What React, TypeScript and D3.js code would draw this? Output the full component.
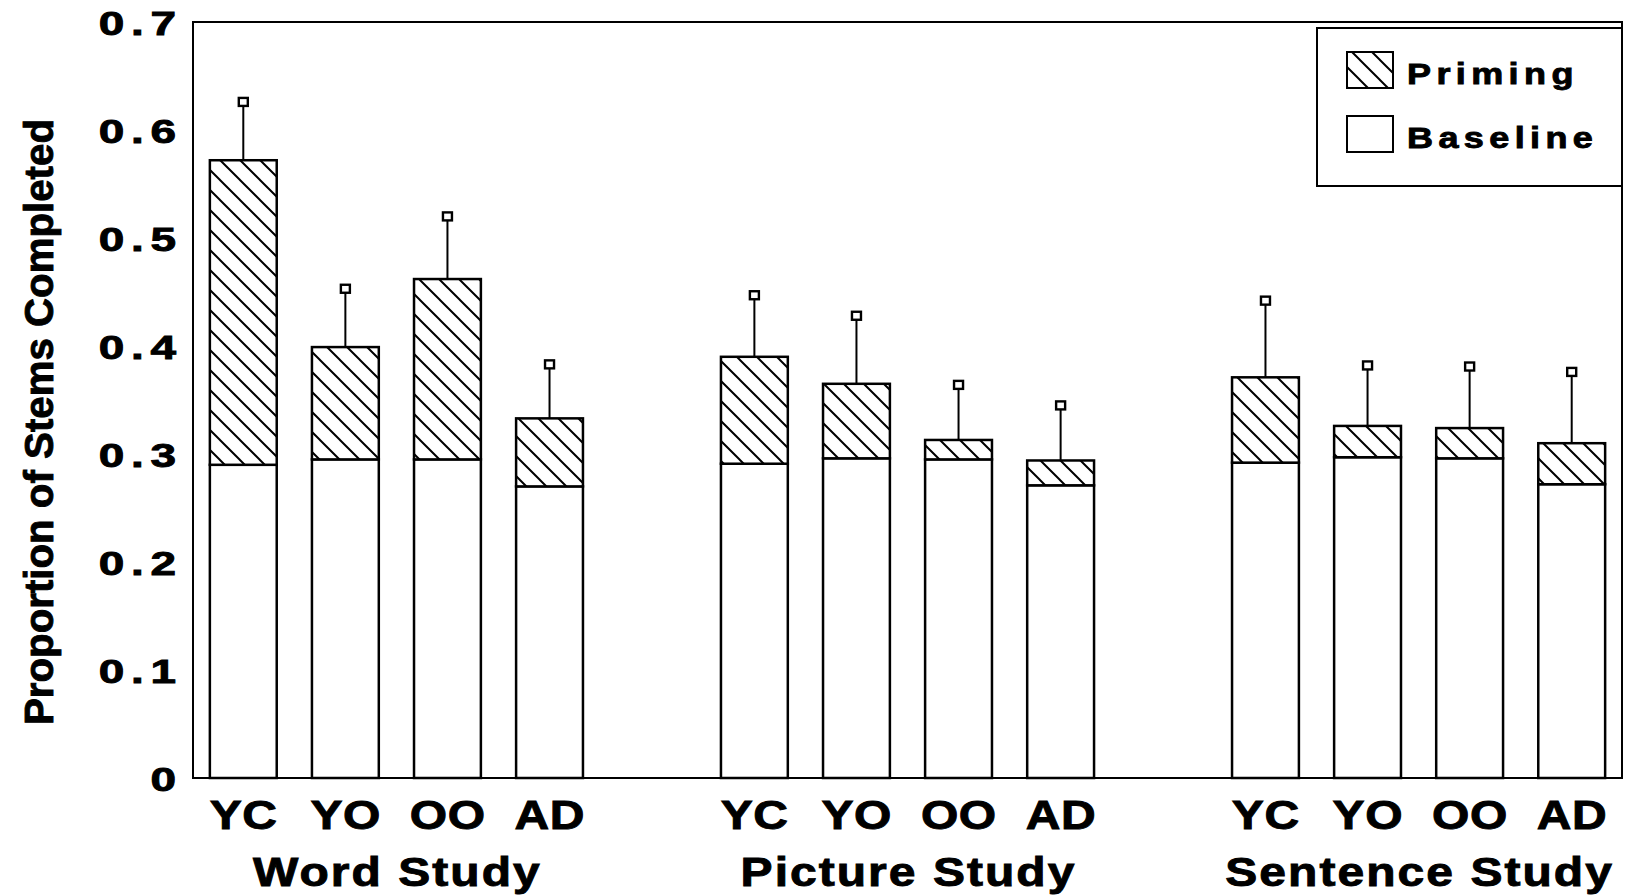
import React from 'react';
import * as d3 from 'd3';

// study conditions and subject groups
const studies = ['Word Study', 'Picture Study', 'Sentence Study'];
const subjects = ['YC', 'YO', 'OO', 'AD'];

// baseline completion rate, one row per study (YC, YO, OO, AD)
const baseline = [
  [0.290, 0.295, 0.295, 0.270],
  [0.291, 0.296, 0.295, 0.271],
  [0.292, 0.297, 0.296, 0.272],
];
// priming effect stacked on top of baseline
const priming = [
  [0.282, 0.104, 0.167, 0.063],
  [0.099, 0.069, 0.018, 0.023],
  [0.079, 0.029, 0.028, 0.038],
];
// error bar (upper) length
const errors = [
  [0.054, 0.054, 0.058, 0.050],
  [0.057, 0.063, 0.051, 0.051],
  [0.071, 0.056, 0.057, 0.066],
];

const yTicks = [0, 0.1, 0.2, 0.3, 0.4, 0.5, 0.6, 0.7];
const yTickLabels = ['0', '0.1', '0.2', '0.3', '0.4', '0.5', '0.6', '0.7'];

const W = 1625;
const H = 895;
const left = 193;
const right = 1622;
const top = 22;
const bottom = 778;

const font = "'Liberation Sans', Arial, Helvetica, sans-serif";

// wide, heavy bold text like the original typesetting
const WideText = ({ x, y, text, size, sx = 1.2, ls = 2, anchor = 'middle' }: any) => {
  const shift = anchor === 'middle' ? ls / 2 : anchor === 'end' ? ls : 0;
  return (
    <text
      transform={`translate(${x + shift * sx},${y}) scale(${sx},1)`}
      textAnchor={anchor}
      fontFamily={font}
      fontWeight="bold"
      fontSize={size}
      letterSpacing={ls}
      fill="#000"
      stroke="#000"
      strokeWidth={0.9}
    >
      {text}
    </text>
  );
};

export default function App() {
  const x0 = d3.scaleBand<string>().domain(studies).range([left, right]).paddingInner(0.27).paddingOuter(0.033);
  const x1 = d3.scaleBand<string>().domain(subjects).range([0, x0.bandwidth()]).paddingInner(0.345);
  const y = d3.scaleLinear().domain([0, 0.7]).range([bottom, top]);

  const bars = studies.flatMap((s, gi) => {
    const rows = subjects.map((sub, i) => ({ subject: sub, baseline: baseline[gi][i], priming: priming[gi][i] }));
    const stacked = d3.stack<any>().keys(['baseline', 'priming'])(rows);
    return subjects.map((sub, i) => ({
      study: s,
      subject: sub,
      base: stacked[0][i],
      prime: stacked[1][i],
      err: errors[gi][i],
    }));
  });

  const bw = x1.bandwidth();

  return (
    <svg width={W} height={H} style={{ position: 'absolute', left: 0, top: 0, background: '#fff' }}>
      <defs>
        <pattern id="hatch" patternUnits="userSpaceOnUse" width={20} height={20}>
          <rect width={20} height={20} fill="#fff" />
          <path d="M0,0L20,20M-5,15L5,25M15,-5L25,5" stroke="#000" strokeWidth={2} />
        </pattern>
      </defs>

      {/* plot frame */}
      <rect x={left} y={top} width={right - left} height={bottom - top} fill="none" stroke="#000" strokeWidth={2} />

      {/* y tick labels */}
      {yTicks.map((t, i) => (
        <WideText key={t} x={176} y={y(t) + 13} text={yTickLabels[i]} size={34} sx={1.35} ls={5} anchor="end" />
      ))}

      {/* y axis title */}
      <text
        transform={`translate(53,${(bottom + top) / 2 + 22}) rotate(-90)`}
        textAnchor="middle"
        fontFamily="'Liberation Sans Narrow', 'Liberation Sans', Arial, sans-serif"
        fontWeight="bold"
        fontSize={41}
        textLength={606}
        lengthAdjust="spacingAndGlyphs"
        stroke="#000"
        strokeWidth={0.9}
      >
        Proportion of Stems Completed
      </text>

      {/* bars */}
      {bars.map((b) => {
        const bx = (x0(b.study) as number) + (x1(b.subject) as number);
        const cx = bx + bw / 2;
        const topVal = b.prime[1];
        const capY = y(topVal + b.err);
        return (
          <g key={b.study + b.subject}>
            <rect x={bx} y={y(b.base[1])} width={bw} height={y(b.base[0]) - y(b.base[1])} fill="#fff" stroke="#000" strokeWidth={2.5} />
            <rect x={bx} y={y(b.prime[1])} width={bw} height={y(b.prime[0]) - y(b.prime[1])} fill="url(#hatch)" stroke="#000" strokeWidth={2.5} />
            <line x1={cx} x2={cx} y1={y(topVal)} y2={capY} stroke="#000" strokeWidth={2} />
            <rect x={cx - 4.5} y={capY - 4} width={9} height={8} fill="#fff" stroke="#000" strokeWidth={2.4} />
          </g>
        );
      })}

      {/* subject labels */}
      {studies.flatMap((s) =>
        subjects.map((sub) => (
          <WideText
            key={s + sub}
            x={(x0(s) as number) + (x1(sub) as number) + bw / 2}
            y={829}
            text={sub}
            size={40}
            sx={1.2}
            ls={0.5}
          />
        ))
      )}

      {/* study labels */}
      {studies.map((s) => (
        <WideText key={s} x={(x0(s) as number) + x0.bandwidth() / 2} y={886} text={s} size={40} sx={1.2} ls={1.7} />
      ))}

      {/* legend */}
      <g>
        <rect x={1317} y={28} width={305} height={158} fill="#fff" stroke="#000" strokeWidth={2} />
        <rect x={1347} y={52} width={46} height={36} fill="url(#hatch)" stroke="#000" strokeWidth={2} />
        <rect x={1347} y={116} width={46} height={36} fill="#fff" stroke="#000" strokeWidth={2} />
        <WideText x={1407} y={84} text="Priming" size={30} sx={1.2} ls={4.5} anchor="start" />
        <WideText x={1407} y={148} text="Baseline" size={30} sx={1.2} ls={4.5} anchor="start" />
      </g>
    </svg>
  );
}
